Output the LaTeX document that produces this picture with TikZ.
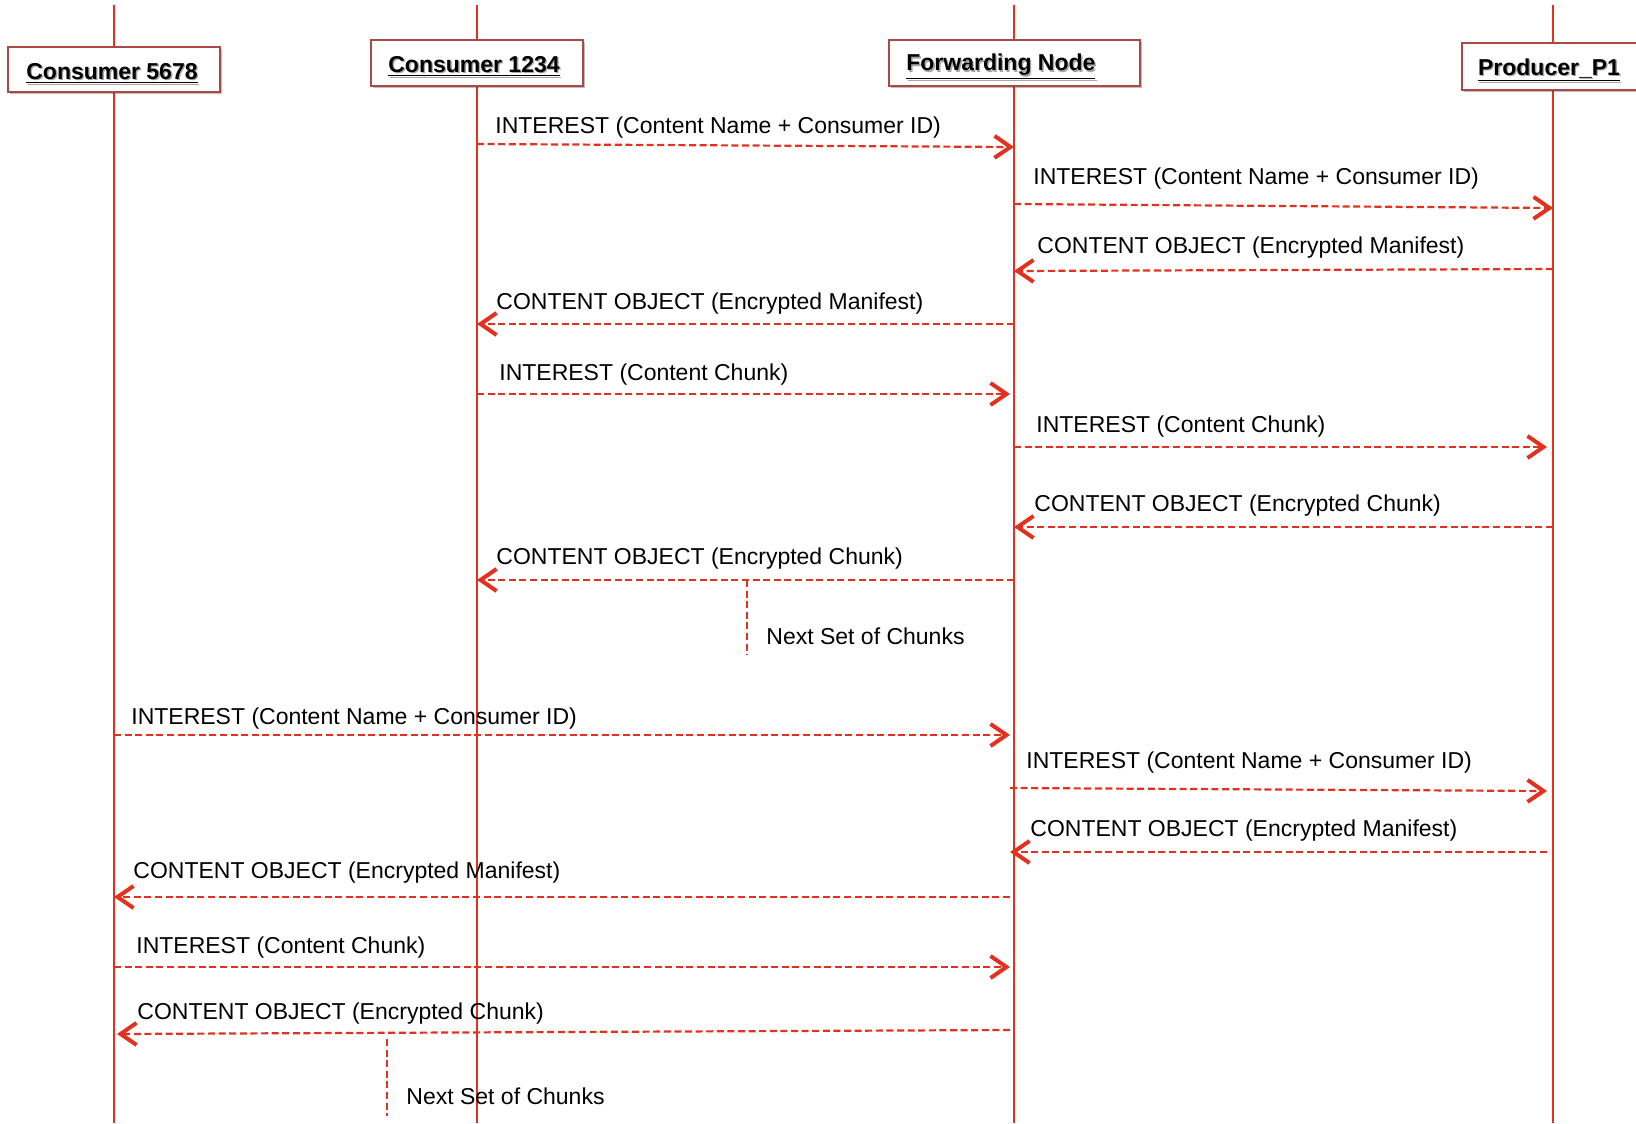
\documentclass[tikz,border=0pt]{standalone}
\usepackage{fontspec}
\setmainfont{Liberation Sans}
\usetikzlibrary{arrows.meta,shadows}
\definecolor{lred}{HTML}{E2321F}
\definecolor{bred}{HTML}{A84A45}
\newcommand{\hdrtext}[1]{\makebox[0pt][l]{\hspace{0.7pt}\raisebox{-0.7pt}{\color{black!35}\underline{#1}}}\underline{#1}}
\begin{document}
\begin{tikzpicture}[x=0.5pt,y=-0.5pt,
  lifeline/.style={draw=lred,line width=1pt},
  hdr/.style={draw=bred,line width=0.9pt,fill=white,inner sep=0pt,
    drop shadow={shadow xshift=1pt,shadow yshift=-1pt,opacity=0.25,fill=black}},
  hdrlbl/.style={inner sep=0pt,font=\fontsize{11.5}{13}\selectfont\bfseries},
  msg/.style={draw=lred,line width=1.1pt,dash pattern=on 3.5pt off 1.8pt,
    -{Straight Barb[length=8pt,width=11pt,line width=2pt]}},
  sep/.style={draw=lred,line width=0.9pt,dash pattern=on 3.5pt off 1.8pt},
  lbl/.style={anchor=west,inner sep=0pt,yshift=-1.6pt,font=\fontsize{11.5}{13}\selectfont}]
\useasboundingbox (0,0) rectangle (1636,1123);
% lifeline ends
\coordinate (l1t) at (114,5);  \coordinate (l1b) at (114,1123);
\coordinate (l2t) at (477,5);  \coordinate (l2b) at (477,1123);
\coordinate (l3t) at (1014,5); \coordinate (l3b) at (1014,1123);
\coordinate (l4t) at (1553,5); \coordinate (l4b) at (1553,1123);
\draw[lifeline] (l1t) -- (l1b);
\draw[lifeline] (l2t) -- (l2b);
\draw[lifeline] (l3t) -- (l3b);
\draw[lifeline] (l4t) -- (l4b);
% headers
\node[hdr,minimum width=106pt,minimum height=22.5pt] (c5678) at (114,69.5) {};
\node[hdr,minimum width=106pt,minimum height=23pt] (c1234) at (477,63) {};
\node[hdr,minimum width=125.5pt,minimum height=23pt] (fwd) at (1014.5,63) {};
\node[hdr,minimum width=91pt,minimum height=23.5pt] (prod) at (1553,66.5) {};
\node[hdrlbl] (c5678t) at ([xshift=-1pt,yshift=-2.4pt]c5678.center) {\hdrtext{Consumer 5678}};
\node[hdrlbl] (c1234t) at ([xshift=-1.5pt,yshift=-2.2pt]c1234.center) {\hdrtext{Consumer 1234}};
\node[hdrlbl] (fwdt) at ([xshift=-6.8pt,yshift=-2.4pt]fwd.center) {\hdrtext{Forwarding Node}};
\node[hdrlbl] (prodt) at ([xshift=-2pt,yshift=-2.2pt]prod.center) {\hdrtext{Producer\_P1}};
% message endpoints
\coordinate (m1a) at (477,144);  \coordinate (m1b) at (1014,147);
\coordinate (m2a) at (1014,204); \coordinate (m2b) at (1553,208);
\coordinate (m3a) at (1553,269); \coordinate (m3b) at (1014,271);
\coordinate (m4a) at (1014,324); \coordinate (m4b) at (477,324);
\coordinate (m5a) at (477,394);  \coordinate (m5b) at (1010,394);
\coordinate (m6a) at (1014,447); \coordinate (m6b) at (1547,447);
\coordinate (m7a) at (1553,527); \coordinate (m7b) at (1014,527);
\coordinate (m8a) at (1014,580); \coordinate (m8b) at (477,580);
\coordinate (s1a) at (747,580);  \coordinate (s1b) at (747,655);
\coordinate (m10a) at (114,735); \coordinate (m10b) at (1010,735);
\coordinate (m11a) at (1010,788); \coordinate (m11b) at (1547,791);
\coordinate (m12a) at (1547,852); \coordinate (m12b) at (1010,852);
\coordinate (m13a) at (1010,897); \coordinate (m13b) at (114,897);
\coordinate (m14a) at (114,967); \coordinate (m14b) at (1010,967);
\coordinate (m15a) at (1010,1030); \coordinate (m15b) at (117,1034);
\coordinate (s2a) at (387,1039); \coordinate (s2b) at (387,1116);
% messages
\draw[msg] (m1a) -- (m1b);
\draw[msg] (m2a) -- (m2b);
\draw[msg] (m3a) -- (m3b);
\draw[msg] (m4a) -- (m4b);
\draw[msg] (m5a) -- (m5b);
\draw[msg] (m6a) -- (m6b);
\draw[msg] (m7a) -- (m7b);
\draw[msg] (m8a) -- (m8b);
\draw[sep] (s1a) -- (s1b);
\draw[msg] (m10a) -- (m10b);
\draw[msg] (m11a) -- (m11b);
\draw[msg] (m12a) -- (m12b);
\draw[msg] (m13a) -- (m13b);
\draw[msg] (m14a) -- (m14b);
\draw[msg] (m15a) -- (m15b);
\draw[sep] (s2a) -- (s2b);
% labels
\node[lbl] (t1) at (495,124) {INTEREST (Content Name + Consumer ID)};
\node[lbl] (t2) at (1033,175) {INTEREST (Content Name + Consumer ID)};
\node[lbl] (t3) at (1037,244) {CONTENT OBJECT (Encrypted Manifest)};
\node[lbl] (t4) at (496,300) {CONTENT OBJECT (Encrypted Manifest)};
\node[lbl] (t5) at (499,371) {INTEREST (Content Chunk)};
\node[lbl] (t6) at (1036,423) {INTEREST (Content Chunk)};
\node[lbl] (t7) at (1034,502) {CONTENT OBJECT (Encrypted Chunk)};
\node[lbl] (t8) at (496,555) {CONTENT OBJECT (Encrypted Chunk)};
\node[lbl] (t9) at (766,633) {Next Set of Chunks};
\node[lbl] (t10) at (131,715) {INTEREST (Content Name + Consumer ID)};
\node[lbl] (t11) at (1026,759) {INTEREST (Content Name + Consumer ID)};
\node[lbl] (t12) at (1030,827) {CONTENT OBJECT (Encrypted Manifest)};
\node[lbl] (t13) at (133,869) {CONTENT OBJECT (Encrypted Manifest)};
\node[lbl] (t14) at (136,944) {INTEREST (Content Chunk)};
\node[lbl] (t15) at (137,1010) {CONTENT OBJECT (Encrypted Chunk)};
\node[lbl] (t16) at (406,1093) {Next Set of Chunks};
\end{tikzpicture}
\end{document}
